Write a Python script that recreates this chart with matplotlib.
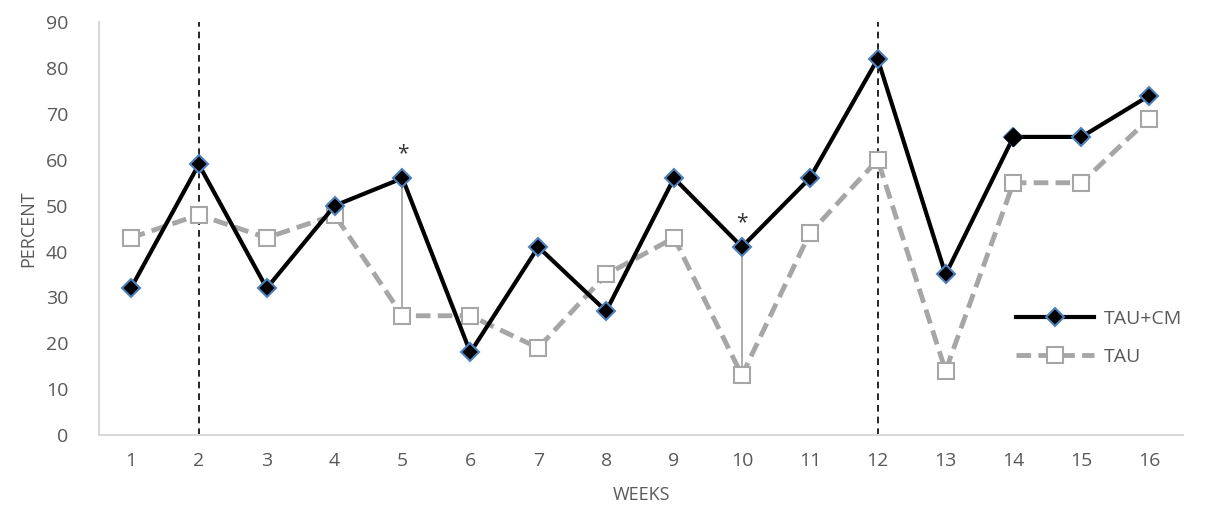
import numpy as np
import matplotlib.pyplot as plt

weeks = list(range(1, 17))
tau_cm = [32, 59, 32, 50, 56, 18, 41, 27, 56, 41, 56, 82, 35, 65, 65, 74]
tau = [43, 48, 43, 48, 26, 26, 19, 35, 43, 13, 44, 60, 14, 55, 55, 69]
phase_weeks = [2, 12]
sig_weeks = [5, 10]

txt = '#595959'
plt.rcParams['font.family'] = ['Open Sans', 'DejaVu Sans']

fig = plt.figure(figsize=(12.06, 5.14), dpi=100)
ax = fig.add_axes([0.0821, 0.1537, 0.899, 0.803])

for w in phase_weeks:
    ax.axvline(w, color='black', lw=1.2, ls=(0, (4, 3)), zorder=1)

for w in sig_weeks:
    i = weeks.index(w)
    ax.plot([w, w], [tau[i], tau_cm[i]], color='#a6a6a6', lw=1.3, zorder=2)
    ax.text(w, tau_cm[i] + 3, '*', ha='center', va='bottom', fontsize=15, color='#333333')

ax.plot(weeks, tau, color='#a6a6a6', lw=3.5, ls=(0, (3, 1.5)), marker='s', ms=11,
        mfc='white', mec='#a6a6a6', mew=1.5, label='TAU', zorder=3)
ax.plot(weeks, tau_cm, color='black', lw=3, marker='D', ms=9,
        mfc='black', mec='#4f81bd', mew=1.5, label='TAU+CM', zorder=4)
ax.plot([14], [tau_cm[13]], marker='D', ms=9, color='black', ls='none', zorder=5)

ax.set_xlim(0.53, 16.5)
ax.set_ylim(0, 90)
ax.set_xticks(weeks)
ax.set_yticks(np.arange(0, 91, 10))
ax.tick_params(length=0, labelsize=14, colors=txt, pad=12)
ax.tick_params(axis='y', pad=22)
for s in ['top', 'right']:
    ax.spines[s].set_visible(False)
for s in ['left', 'bottom']:
    ax.spines[s].set_color('#d9d9d9')
    ax.spines[s].set_linewidth(1.5)

ax.set_xlabel('WEEKS', fontsize=13, color=txt, labelpad=12)
ax.set_ylabel('PERCENT', fontsize=13, color=txt, labelpad=6)

h, l = ax.get_legend_handles_labels()
ax.legend([h[1], h[0]], [l[1], l[0]], loc='center left',
          bbox_to_anchor=(0.83, 0.235), frameon=False, fontsize=14,
          labelcolor=txt, handlelength=4.0, labelspacing=1.0, handletextpad=0.5)

fig.savefig('out.png', dpi=100)
